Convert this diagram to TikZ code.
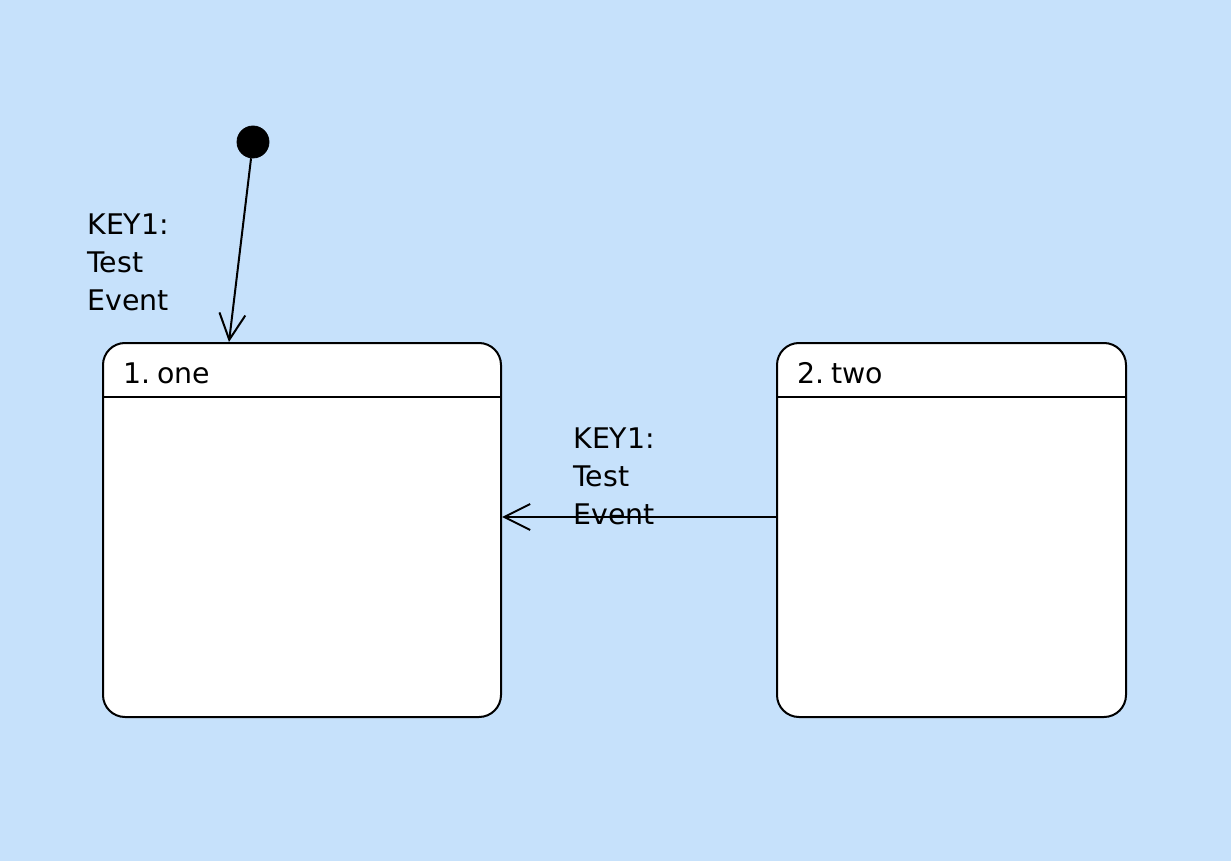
\documentclass[tikz,border=0pt]{standalone}
\usepackage{fontspec}
\setmainfont{DejaVu Sans}
\usepackage{xcolor}
\usetikzlibrary{arrows.meta,calc,positioning}
\definecolor{umlBack}{HTML}{C6E1FB}
\definecolor{umlInk}{HTML}{000000}

\begin{document}
\begin{tikzpicture}[x=0.5pt,y=-0.5pt,
    every node/.style={font=\fontsize{14.2}{19}\selectfont, text=umlInk},
    statebox/.style={draw=umlInk, fill=white, line width=1pt, rounded corners=11pt, inner sep=0pt},
    initdot/.style={circle, fill=umlInk, draw=umlInk, minimum size=16pt, inner sep=0pt},
    trans/.style={draw=umlInk, line width=1pt, -{Straight Barb[length=13pt,width=13pt,line width=1pt]}},
    evlabel/.style={anchor=north west, align=left, inner sep=0pt}]
    \fill[umlBack] (0,0) rectangle (1231,861);
    \useasboundingbox (0,0) rectangle (1231,861);
    % states
    \node[statebox, minimum width=199pt, minimum height=187pt] (one) at (302,530) {};
    \node[statebox, minimum width=174.5pt, minimum height=187pt] (two) at (951.5,530) {};
    \draw[line width=1pt, umlInk] ([yshift=-27.5pt]one.north west) -- ([yshift=-27.5pt]one.north east);
    \draw[line width=1pt, umlInk] ([yshift=-27.5pt]two.north west) -- ([yshift=-27.5pt]two.north east);
    \node[anchor=base west, inner sep=0pt] (onename) at (123,383) {1.\kern-1pt\ one};
    \node[anchor=base west, inner sep=0pt] (twoname) at (797,383) {2.\kern-1pt\ two};
    % initial state
    \node[initdot] (init) at (253,142) {};
    \draw[trans] (init) -- ([xshift=63.5pt]one.north west);
    \node[evlabel] (initev) at (87,213) {KEY1:\\Test\\Event};
    % two -> one
    \draw[trans] ([yshift=6.5pt]two.west) -- ([yshift=6.5pt]one.east);
    \node[evlabel] (twoev) at (573,427) {KEY1:\\Test\\Event};
\end{tikzpicture}
\end{document}
